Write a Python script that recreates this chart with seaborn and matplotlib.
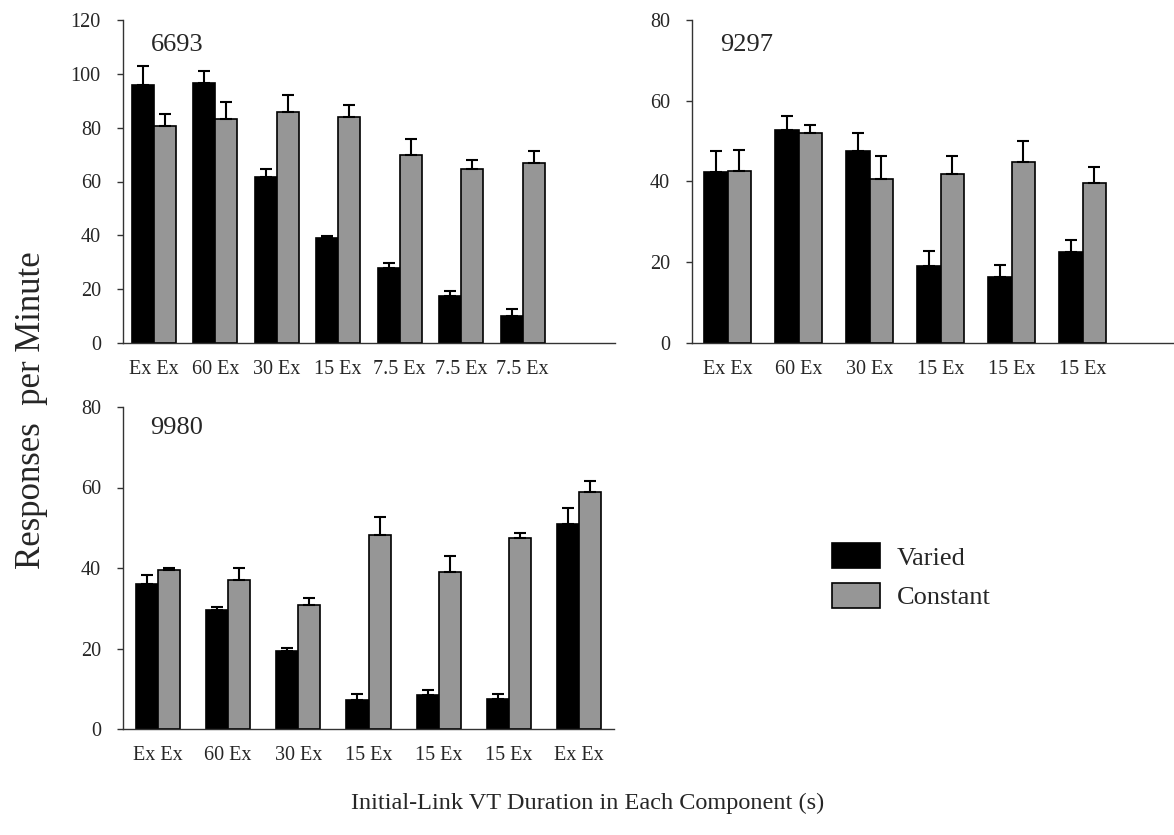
import matplotlib
matplotlib.use("Agg")
import matplotlib.pyplot as plt
from matplotlib.patches import Patch
import seaborn as sns
import pandas as pd

# ---- data -------------------------------------------------------------
conditions = ["Varied", "Constant"]

labels_6693 = ["Ex Ex", "60 Ex", "30 Ex", "15 Ex", "7.5 Ex", "7.5 Ex", "7.5 Ex"]
varied_6693 = [96.0, 96.5, 61.5, 39.1, 28.0, 17.4, 10.1]
varied_err_6693 = [7.0, 4.6, 3.2, 0.7, 1.7, 1.9, 2.5]
constant_6693 = [80.5, 83.4, 85.8, 83.9, 69.9, 64.6, 66.7]
constant_err_6693 = [4.7, 6.3, 6.5, 4.6, 6.0, 3.3, 4.6]

labels_9297 = ["Ex Ex", "60 Ex", "30 Ex", "15 Ex", "15 Ex", "15 Ex"]
varied_9297 = [42.3, 52.8, 47.6, 19.0, 16.4, 22.5]
varied_err_9297 = [5.2, 3.5, 4.3, 3.9, 2.9, 3.1]
constant_9297 = [42.6, 51.9, 40.5, 41.8, 44.9, 39.7]
constant_err_9297 = [5.3, 2.2, 5.7, 4.4, 5.2, 3.9]

labels_9980 = ["Ex Ex", "60 Ex", "30 Ex", "15 Ex", "15 Ex", "15 Ex", "Ex Ex"]
varied_9980 = [36.1, 29.5, 19.5, 7.1, 8.4, 7.5, 51.0]
varied_err_9980 = [2.2, 0.8, 0.6, 1.6, 1.2, 1.2, 3.8]
constant_9980 = [39.5, 36.9, 30.7, 48.3, 39.1, 47.4, 58.8]
constant_err_9980 = [0.5, 3.0, 1.8, 4.3, 4.0, 1.4, 2.7]

# ---- style ------------------------------------------------------------
sns.set_theme(style="white")
plt.rcParams["font.family"] = ["Liberation Serif", "DejaVu Serif"]
plt.rcParams["axes.linewidth"] = 1.0

palette = {"Varied": "#000000", "Constant": "#969696"}
W, H = 1174, 835
fig = plt.figure(figsize=(W / 100, H / 100), dpi=100)


def px_axes(left, top, right, bottom):
    return fig.add_axes([left / W, 1 - bottom / H, (right - left) / W, (bottom - top) / H])


def panel(ax, name, labels, varied, v_err, constant, c_err, ymax, nslots, width, title_y):
    keys = [f"g{i}" for i in range(len(labels))]
    df = pd.DataFrame({
        "group": keys * 2,
        "condition": ["Varied"] * len(keys) + ["Constant"] * len(keys),
        "rate": list(varied) + list(constant),
    })
    sns.barplot(data=df, x="group", y="rate", hue="condition", order=keys,
                hue_order=conditions, palette=palette, width=width,
                errorbar=None, edgecolor="black", linewidth=1.2,
                saturation=1, legend=False, ax=ax)
    # upward-only error bars on top of each bar
    for container, errs in zip(ax.containers, [v_err, c_err]):
        xs = [b.get_x() + b.get_width() / 2 for b in container]
        ys = [b.get_height() for b in container]
        ax.errorbar(xs, ys, yerr=[[0] * len(errs), errs], fmt="none",
                    ecolor="black", elinewidth=1.5, capsize=4.5,
                    capthick=1.5, zorder=3)
    ax.set_xlim(-0.5, nslots - 0.5)
    ax.set_ylim(0, ymax)
    ax.set_yticks(range(0, ymax + 1, 20))
    ax.set_xticks(range(len(labels)))
    ax.set_xticklabels(labels)
    ax.set_xlabel("")
    ax.set_ylabel("")
    for s in ["top", "right"]:
        ax.spines[s].set_visible(False)
    for s in ["left", "bottom"]:
        ax.spines[s].set_color("#333333")
    ax.tick_params(axis="x", length=0, pad=12, labelsize=14.5)
    ax.tick_params(axis="y", direction="out", length=4, width=1,
                   color="#333333", pad=12, labelsize=14.5, left=True)
    ax.text(0.056, title_y, name, transform=ax.transAxes, fontsize=19,
            ha="left", va="center")


ax1 = px_axes(123, 20, 615, 343)
panel(ax1, "6693", labels_6693, varied_6693, varied_err_6693,
      constant_6693, constant_err_6693, 120, 8, 0.72, 0.923)

ax2 = px_axes(692, 20, 1189, 343)
panel(ax2, "9297", labels_9297, varied_9297, varied_err_9297,
      constant_9297, constant_err_9297, 80, 7, 0.65, 0.923)

ax3 = px_axes(123, 407, 614, 729)
panel(ax3, "9980", labels_9980, varied_9980, varied_err_9980,
      constant_9980, constant_err_9980, 80, 7, 0.63, 0.935)

fig.text(32 / W, 1 - 410 / H, "Responses  per Minute", rotation=90,
         ha="center", va="center", fontsize=25)
fig.text(588 / W, 1 - 803 / H, "Initial-Link VT Duration in Each Component (s)",
         ha="center", va="center", fontsize=17.5)

handles = [Patch(facecolor=palette[c], edgecolor="black", linewidth=1.2) for c in conditions]
fig.legend(handles, conditions, loc="upper left",
           bbox_to_anchor=(832 / W, 1 - 543 / H), frameon=False, fontsize=19,
           handlelength=1.8, handleheight=1.1, labelspacing=0.5,
           handletextpad=0.65, borderpad=0, borderaxespad=0)

fig.savefig("out.png", dpi=100)
